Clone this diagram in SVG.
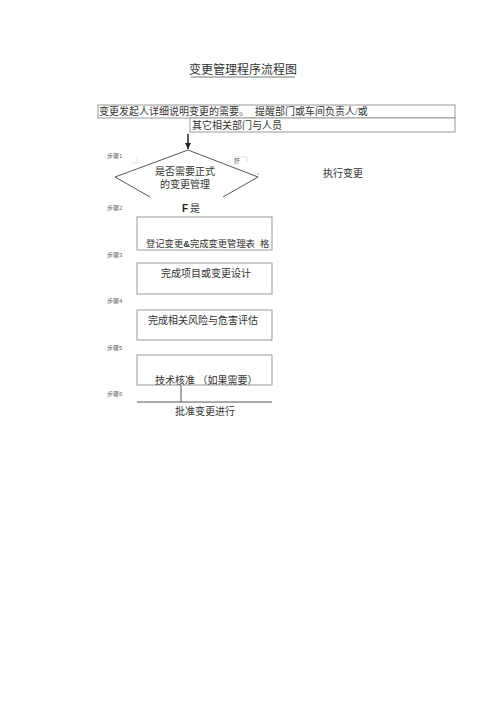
<svg xmlns="http://www.w3.org/2000/svg" width="500" height="708" viewBox="0 0 500 708">
<defs>
<style>
.t{font-family:"Liberation Serif","Noto Sans CJK SC",serif;fill:#333;}
.s{font-family:"Liberation Sans","Noto Sans CJK SC",sans-serif;font-size:6px;fill:#666;}
.box{fill:#fff;stroke:#999;stroke-width:1;}
.ln{fill:none;stroke:#555;stroke-width:1;}
</style>
<marker id="ah" markerWidth="8" markerHeight="8" refX="6" refY="4" orient="auto" markerUnits="userSpaceOnUse">
<path d="M0,1 L6,4 L0,7 Z" fill="#222"/>
</marker>
</defs>
<rect width="500" height="708" fill="#fff"/>
<g id="title">
<text class="t" x="243" y="74" font-size="12" text-anchor="middle">变更管理程序流程图</text>
<line x1="191" y1="77" x2="295" y2="77" stroke="#555" stroke-width="0.8"/>
</g>
<g id="start">
<rect class="box" x="98" y="105" width="357" height="13"/>
<rect class="box" x="190" y="118" width="265" height="14"/>
<text class="t" x="99" y="115" font-size="10">变更发起人详细说明变更的需要。</text>
<text class="t" x="255" y="115" font-size="10">提醒部门或车间负责人/或</text>
<text class="t" x="192" y="129" font-size="10">其它相关部门与人员</text>
</g>
<g id="connectors">
<line x1="188" y1="134" x2="188" y2="149" stroke="#222" stroke-width="1.5" marker-end="url(#ah)"/>
<line class="ln" x1="181" y1="385" x2="181" y2="402"/>
</g>
<g id="decision">
<polyline class="ln" stroke-width="1.3" points="150,197 115,177 188,150 258,177 223,197"/>
<text class="t" x="185" y="175" font-size="10" text-anchor="middle">是否需要正式</text>
<text class="t" x="185" y="188" font-size="10" text-anchor="middle">的变更管理</text>
<text class="s" x="234" y="163" font-size="5">肝</text>
<polyline points="137,157 137,163 132,163" fill="none" stroke="#ccc" stroke-width="0.6"/>
<polyline points="233,157 247,157 247,162" fill="none" stroke="#ccc" stroke-width="0.6"/>
<circle cx="258" cy="174" r="0.6" fill="#333"/>
</g>
<g id="yes">
<text x="182" y="212" font-size="10" font-family="Liberation Sans,sans-serif" font-weight="bold" fill="#222">F</text>
<text class="t" x="190" y="212" font-size="10">是</text>
</g>
<g id="exec">
<text class="t" x="323" y="177" font-size="10">执行变更</text>
</g>
<g id="steps">
<text class="s" x="107" y="158">步骤1</text>
<text class="s" x="107" y="210">步骤2</text>
<text class="s" x="107" y="257">步骤3</text>
<text class="s" x="107" y="303">步骤4</text>
<text class="s" x="107" y="350">步骤5</text>
<text class="s" x="107" y="396">步骤6</text>
</g>
<g id="step2">
<rect class="box" x="137" y="217" width="135" height="33"/>
<text class="t" x="146" y="247" font-size="9.3">登记变更<tspan font-family="Liberation Sans,sans-serif" font-weight="bold">&amp;</tspan>完成变更管理表<tspan x="260">格</tspan></text>
</g>
<g id="step3">
<rect class="box" x="137" y="263" width="135" height="31"/>
<text class="t" x="206" y="277" font-size="10" text-anchor="middle">完成项目或变更设计</text>
</g>
<g id="step4">
<rect class="box" x="137" y="310" width="135" height="30"/>
<text class="t" x="148" y="324" font-size="10">完成相关风险与危害评估</text>
</g>
<g id="step5">
<rect class="box" x="137" y="355" width="135" height="30"/>
<text class="t" x="155" y="384" font-size="10">技术核准 （如果需要）</text>
</g>
<g id="step6">
<line class="ln" x1="137" y1="402" x2="272" y2="402" stroke="#999"/>
<text class="t" x="205" y="415" font-size="10" text-anchor="middle">批准变更进行</text>
</g>
</svg>
